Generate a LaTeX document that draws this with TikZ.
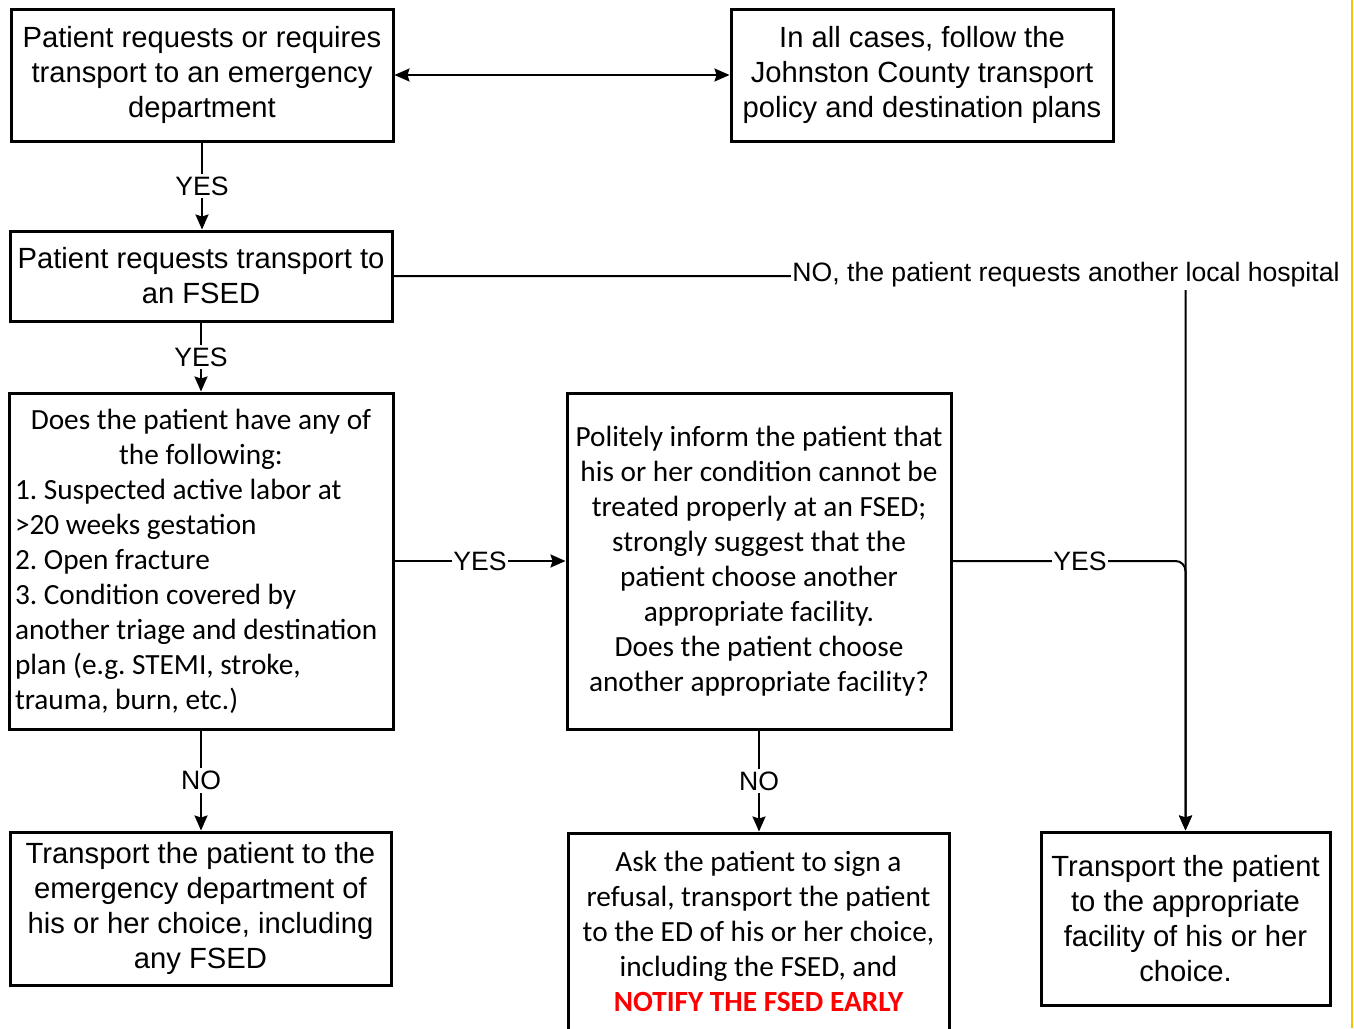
\documentclass[tikz,border=0pt]{standalone}
\usepackage{fontspec}
\setmainfont{Liberation Sans}
\newfontfamily\calfont{Carlito}
\usetikzlibrary{arrows.meta,calc}

\begin{document}
\begin{tikzpicture}[x=1pt,y=-1pt,
  box/.style={draw, line width=3pt, inner sep=0pt, align=center,
              font=\fontsize{29.2}{35}\selectfont},
  calbox/.style={box, font=\calfont\frenchspacing\fontsize{29.3}{35}\selectfont},
  tip/.tip={Stealth[length=15pt,width=13pt,inset=2pt]},
  conn/.style={line width=2pt, -tip},
  lbl/.style={fill=white, draw=none, inner xsep=1pt, inner ysep=3pt,
              font=\fontsize{26.6}{30}\selectfont}]
\useasboundingbox (0,0) rectangle (1354,1028);
\clip (0,0) rectangle (1354,1028);

% page edge marker
\draw[line width=2pt, draw={rgb,255:red,255;green,192;blue,0}] (1352,0) -- (1352,1028);

% boxes
\node[box, minimum width=382pt, minimum height=132pt] (b1) at (202,75)
  {Patient requests or requires\\transport to an emergency\\department};
\node[box, minimum width=382pt, minimum height=132pt] (b2) at (922,75)
  {In all cases, follow the\\Johnston County transport\\policy and destination plans};
\node[box, minimum width=382pt, minimum height=90pt] (b3) at (201,276)
  {Patient requests transport to\\an FSED};
\node[calbox, minimum width=384pt, minimum height=336pt, align=left] (b4) at (201,561)
  {\makebox[372pt][c]{Does the patient have any of}\\
   \makebox[372pt][c]{the following:}\\
   1. Suspected active labor at\\
   >20 weeks gestation\\
   2. Open fracture\\
   3. Condition covered by\\
   another triage and destination\\
   plan (e.g. STEMI, stroke,\\
   trauma, burn, etc.)};
\node[calbox, minimum width=384pt, minimum height=336pt] (b5) at (759,561)
  {Politely inform the patient that\\his or her condition cannot be\\treated properly at an FSED;\\strongly suggest that the\\patient choose another\\appropriate facility.\\Does the patient choose\\another appropriate facility?};
\node[box, minimum width=381pt, minimum height=153pt] (b6) at (200.5,908.5)
  {Transport the patient to the\\emergency department of\\his or her choice, including\\any FSED};
\node[calbox, minimum width=381pt, minimum height=197pt] (b7) at (758.5,931.5)
  {Ask the patient to sign a\\refusal, transport the patient\\to the ED of his or her choice,\\including the FSED, and\\
   \textcolor{red}{\bfseries NOTIFY THE FSED EARLY}};
\node[box, minimum width=289pt, minimum height=173pt] (b8) at (1185.5,918.5)
  {Transport the patient\\to the appropriate\\facility of his or her\\choice.};

% connectors
\draw[line width=2pt, tip-tip] (b1.east) -- (b2.west);
\draw[conn] (b1.south) -- (b1.south |- b3.north);
\draw[conn] (b3.south) -- (b3.south |- b4.north);
\draw[conn] (b4.south) -- (b4.south |- b6.north);
\draw[conn] (b4.east) -- (b5.west);
\draw[conn] (b5.south) -- (b5.south |- b7.north);
\draw[conn, rounded corners=10pt] (b5.east) -| (b8.north);
\draw[conn, rounded corners=10pt] (b3.east) -| (b8.north);

% connector labels
\node[lbl] (l1) at ($(b1.south)!0.5!(b1.south |- b3.north)$) {YES};
\node[lbl] (l2) at ($(b3.south)!0.5!(b3.south |- b4.north)$) {YES};
\node[lbl] (l3) at ($(b4.south)!0.5!(b4.south |- b6.north)$) {NO};
\node[lbl] (l4) at ($(b4.east)!0.5!(b5.west)$) {YES};
\node[lbl] (l5) at ($(b5.south)!0.5!(b5.south |- b7.north)$) {NO};
\node[lbl] (l6) at (1080,561) {YES};
\node[lbl] (l7) at (1066,275) {NO, the patient requests another local hospital};
\end{tikzpicture}
\end{document}
